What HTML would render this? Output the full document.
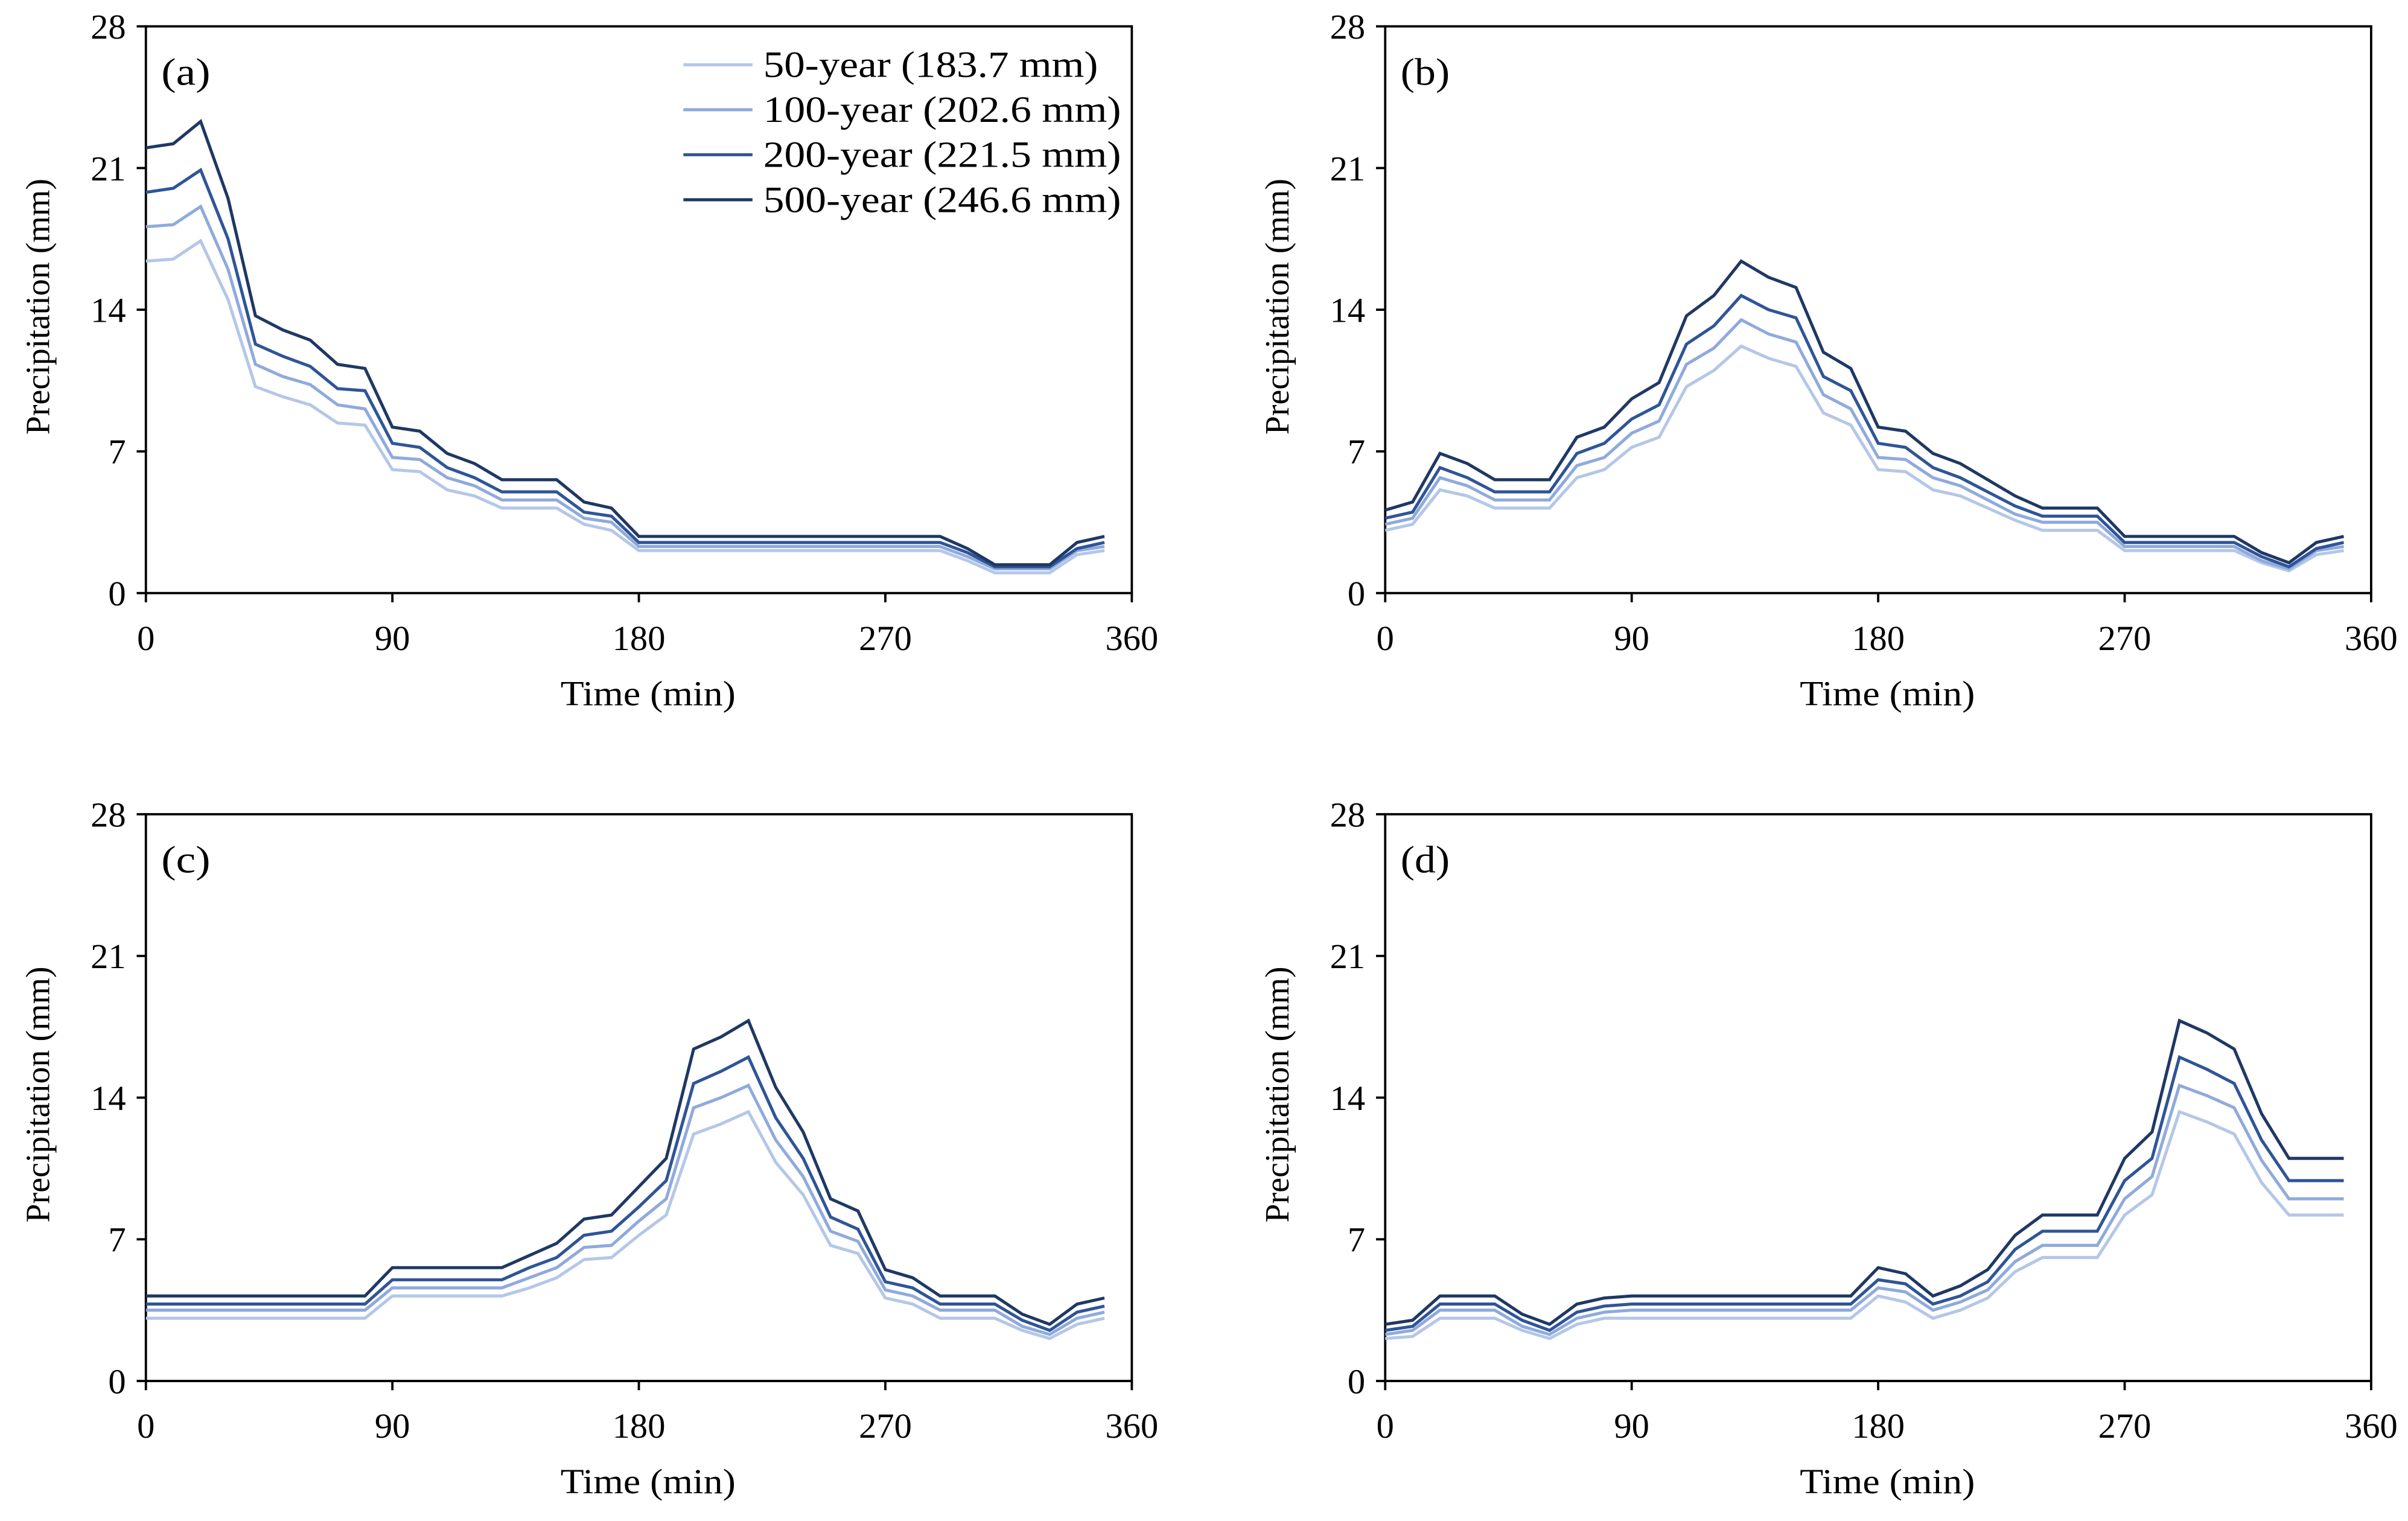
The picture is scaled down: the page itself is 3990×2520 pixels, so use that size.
<!DOCTYPE html>
<html><head><meta charset="utf-8"><style>
html,body{margin:0;padding:0;background:#fff}
svg{display:block}
text{font-family:"Liberation Serif",serif;fill:#000}
</style></head><body>
<svg id="fig" width="3990" height="2520" viewBox="0 0 1568 990" xmlns="http://www.w3.org/2000/svg"></svg>
<script>
const times = Array.from({length:36},(_,i)=>i*10);
const seriesNames = ["50-year (183.7 mm)","100-year (202.6 mm)","200-year (221.5 mm)","500-year (246.6 mm)"];
const colors = ["#b4c7e7","#8faadc","#2f5597","#1f3864"];
const xTicks = [0,90,180,270,360];
const yTicks = [0,7,14,21,28];
const panelLabels = ["(a)","(b)","(c)","(d)"];
const a50 = [16.4,16.5,17.4,14.5,10.2,9.7,9.3,8.4,8.3,6.1,6,5.1,4.8,4.2,4.2,4.2,3.4,3.1,2.1,2.1,2.1,2.1,2.1,2.1,2.1,2.1,2.1,2.1,2.1,2.1,1.6,1,1,1,1.9,2.1];
const a100 = [18.1,18.2,19.1,16,11.3,10.7,10.3,9.3,9.1,6.7,6.6,5.7,5.3,4.6,4.6,4.6,3.7,3.5,2.3,2.3,2.3,2.3,2.3,2.3,2.3,2.3,2.3,2.3,2.3,2.3,1.8,1.2,1.2,1.2,2.1,2.3];
const a200 = [19.8,20,20.9,17.5,12.3,11.7,11.2,10.1,10,7.4,7.2,6.2,5.7,5,5,5,4,3.8,2.5,2.5,2.5,2.5,2.5,2.5,2.5,2.5,2.5,2.5,2.5,2.5,2,1.3,1.3,1.3,2.2,2.5];
const a500 = [22,22.2,23.3,19.5,13.7,13,12.5,11.3,11.1,8.2,8,6.9,6.4,5.6,5.6,5.6,4.5,4.2,2.8,2.8,2.8,2.8,2.8,2.8,2.8,2.8,2.8,2.8,2.8,2.8,2.2,1.4,1.4,1.4,2.5,2.8];
const b50 = [3.1,3.4,5.1,4.8,4.2,4.2,4.2,5.7,6.1,7.2,7.7,10.2,11,12.2,11.6,11.2,8.9,8.3,6.1,6,5.1,4.8,4.2,3.6,3.1,3.1,3.1,2.1,2.1,2.1,2.1,2.1,1.5,1.1,1.9,2.1];
const b100 = [3.4,3.7,5.7,5.3,4.6,4.6,4.6,6.3,6.7,7.9,8.5,11.3,12.1,13.5,12.8,12.4,9.8,9.1,6.7,6.6,5.7,5.3,4.6,3.9,3.5,3.5,3.5,2.3,2.3,2.3,2.3,2.3,1.6,1.2,2.1,2.3];
const b200 = [3.7,4,6.2,5.7,5,5,5,6.9,7.4,8.6,9.3,12.3,13.2,14.7,14,13.6,10.7,10,7.4,7.2,6.2,5.7,5,4.3,3.8,3.8,3.8,2.5,2.5,2.5,2.5,2.5,1.8,1.3,2.2,2.5];
const b500 = [4.1,4.5,6.9,6.4,5.6,5.6,5.6,7.7,8.2,9.6,10.4,13.7,14.7,16.4,15.6,15.1,11.9,11.1,8.2,8,6.9,6.4,5.6,4.8,4.2,4.2,4.2,2.8,2.8,2.8,2.8,2.8,2,1.5,2.5,2.8];
const c50 = [3.1,3.1,3.1,3.1,3.1,3.1,3.1,3.1,3.1,4.2,4.2,4.2,4.2,4.2,4.6,5.1,6,6.1,7.2,8.2,12.2,12.7,13.3,10.8,9.2,6.7,6.3,4.1,3.8,3.1,3.1,3.1,2.5,2.1,2.8,3.1];
const c100 = [3.5,3.5,3.5,3.5,3.5,3.5,3.5,3.5,3.5,4.6,4.6,4.6,4.6,4.6,5.1,5.6,6.6,6.7,7.9,9,13.5,14,14.6,11.9,10.1,7.4,6.9,4.5,4.2,3.5,3.5,3.5,2.7,2.3,3.1,3.4];
const c200 = [3.8,3.8,3.8,3.8,3.8,3.8,3.8,3.8,3.8,5,5,5,5,5,5.6,6.1,7.2,7.4,8.6,9.9,14.7,15.3,16,13,11,8.1,7.5,4.9,4.6,3.8,3.8,3.8,3,2.5,3.4,3.7];
const c500 = [4.2,4.2,4.2,4.2,4.2,4.2,4.2,4.2,4.2,5.6,5.6,5.6,5.6,5.6,6.2,6.8,8,8.2,9.6,11,16.4,17,17.8,14.5,12.3,9,8.4,5.5,5.1,4.2,4.2,4.2,3.3,2.8,3.8,4.1];
const d50 = [2.1,2.2,3.1,3.1,3.1,2.5,2.1,2.8,3.1,3.1,3.1,3.1,3.1,3.1,3.1,3.1,3.1,3.1,4.2,3.9,3.1,3.5,4.1,5.4,6.1,6.1,6.1,8.2,9.2,13.3,12.8,12.2,9.8,8.2,8.2,8.2];
const d100 = [2.3,2.5,3.5,3.5,3.5,2.7,2.3,3.1,3.4,3.5,3.5,3.5,3.5,3.5,3.5,3.5,3.5,3.5,4.6,4.4,3.5,3.9,4.5,5.9,6.7,6.7,6.7,9,10.1,14.6,14.1,13.5,10.9,9,9,9];
const d200 = [2.5,2.7,3.8,3.8,3.8,3,2.5,3.4,3.7,3.8,3.8,3.8,3.8,3.8,3.8,3.8,3.8,3.8,5,4.8,3.8,4.2,4.9,6.5,7.4,7.4,7.4,9.9,11,16,15.4,14.7,11.9,9.9,9.9,9.9];
const d500 = [2.8,3,4.2,4.2,4.2,3.3,2.8,3.8,4.1,4.2,4.2,4.2,4.2,4.2,4.2,4.2,4.2,4.2,5.6,5.3,4.2,4.7,5.5,7.2,8.2,8.2,8.2,11,12.3,17.8,17.2,16.4,13.2,11,11,11];
const panelsData = [[a50,a100,a200,a500],[b50,b100,b200,b500],[c50,c100,c200,c500],[d50,d100,d200,d500]];

const NS="http://www.w3.org/2000/svg";
const svg=document.getElementById('fig');
function mk(tag,attrs,parent){const e=document.createElementNS(NS,tag);for(const k in attrs)e.setAttribute(k,attrs[k]);(parent||svg).appendChild(e);return e;}
const origins=[[95,17],[902,17],[95,530],[902,530]];
const W=642,H=369;
panelsData.forEach((series,p)=>{
  const [ox,oy]=origins[p];
  const g=mk('g',{});
  
  
  const xs=v=>ox+v/360*W, ys=v=>oy+H-v/28*H;
  const frame=mk('rect',{x:ox,y:oy,width:W,height:H,fill:'none',stroke:'#000','stroke-width':1.5},g);
  
  
  xTicks.forEach(t=>{
    mk('line',{x1:xs(t),x2:xs(t),y1:oy+H,y2:oy+H+6,stroke:'#000','stroke-width':1.5},g);
    const tx=mk('text',{x:xs(t),y:oy+H+37,'text-anchor':'middle','font-size':23},g);
    tx.textContent=t;
    
    
  });
  yTicks.forEach(t=>{
    mk('line',{x1:ox-6,x2:ox,y1:ys(t),y2:ys(t),stroke:'#000','stroke-width':1.5},g);
    const tx=mk('text',{x:ox-13,y:ys(t)+8,'text-anchor':'end','font-size':23},g);
    tx.textContent=t;
    
    
  });
  const xt=mk('text',{x:ox+W/2-14,y:oy+H+73,'font-size':23,textLength:114,lengthAdjust:'spacingAndGlyphs'},g);
  xt.setAttribute('x',ox+W/2-57+6);
  xt.textContent='Time (min)';
  
  
  const yt=mk('text',{x:0,y:0,'text-anchor':'middle','font-size':22,transform:`translate(${ox-63},${oy+H/2-2}) rotate(-90)`},g);
  yt.textContent='Precipitation (mm)';
  
  
  const pl=mk('text',{x:ox+10,y:oy+38,'font-size':25,textLength:32,lengthAdjust:'spacingAndGlyphs'},g);
  pl.textContent=panelLabels[p];
  
  
  series.forEach((vals,s)=>{
    const pts=vals.map((v,i)=>xs(times[i]).toFixed(2)+','+ys(v).toFixed(2)).join(' ');
    const pl2=mk('polyline',{points:pts,fill:'none',stroke:colors[s],'stroke-width':2,'stroke-linejoin':'miter'},g);
    
    
  });
});
const lg=mk('g',{});


const legendLens=[218,233,233,233];
seriesNames.forEach((n,s)=>{
  const y=42+s*29.3;
  mk('line',{x1:445,x2:490,y1:y,y2:y,stroke:colors[s],'stroke-width':2},lg);
  const t=mk('text',{x:497,y:y+8,'font-size':24,textLength:legendLens[s],lengthAdjust:'spacingAndGlyphs'},lg);
  t.textContent=n;
  
  
});
</script>
</body></html>
